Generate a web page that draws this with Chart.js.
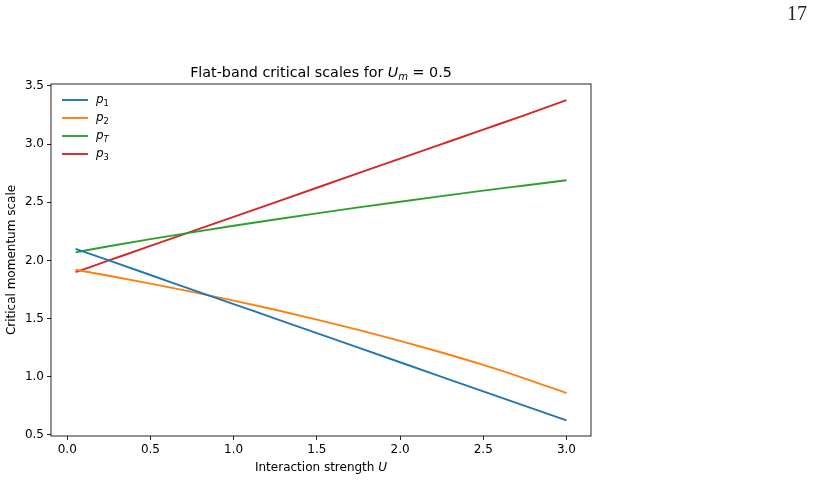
<!DOCTYPE html>
<html>
<head>
<meta charset="utf-8">
<script src="https://cdn.jsdelivr.net/npm/chart.js@4.4.0/dist/chart.umd.min.js"></script>
<style>
  html, body { margin: 0; padding: 0; background: #fff; }
  #wrap { position: relative; width: 814px; height: 481px; }
</style>
</head>
<body>
<div id="wrap"><canvas id="chart" width="814" height="481"></canvas></div>
<script>
// interaction strength U
const interaction = [0.05, 0.25, 0.5, 0.75, 1.0, 1.25, 1.5, 1.75, 2.0, 2.25, 2.5, 2.75, 3.0];
const p1 = [2.10, 2.00, 1.875, 1.75, 1.625, 1.50, 1.375, 1.25, 1.125, 1.00, 0.875, 0.75, 0.625];
const p2 = [1.92, 1.869, 1.801, 1.730, 1.655, 1.576, 1.492, 1.403, 1.309, 1.209, 1.102, 0.985, 0.86];
const pT = [2.07, 2.122, 2.183, 2.242, 2.298, 2.352, 2.405, 2.456, 2.505, 2.553, 2.600, 2.645, 2.69];
const p3 = [1.90, 2.00, 2.125, 2.25, 2.375, 2.50, 2.625, 2.75, 2.875, 3.00, 3.125, 3.25, 3.378];

const xTicks = [0.0, 0.5, 1.0, 1.5, 2.0, 2.5, 3.0];
const yTicks = [0.5, 1.0, 1.5, 2.0, 2.5, 3.0, 3.5];

const FONT = '"DejaVu Sans", sans-serif';
const FS = 12;

function pts(ys) {
    return interaction.map((u, i) => ({ x: u, y: ys[i] }));
}

// draw text made of runs: {t, italic, sub}
function drawRuns(ctx, runs, x, y, size, align) {
    const fontOf = r => (r.italic ? 'italic ' : '') + (r.sub ? size * 0.7 : size) + 'px ' + FONT;
    let total = 0;
    runs.forEach(r => { ctx.font = fontOf(r); total += ctx.measureText(r.t).width; });
    let cx = align === 'center' ? x - total / 2 : x;
    ctx.textAlign = 'left';
    ctx.textBaseline = 'alphabetic';
    runs.forEach(r => {
        ctx.font = fontOf(r);
        ctx.fillText(r.t, cx, r.sub ? y + size * 0.22 : y);
        cx += ctx.measureText(r.t).width;
    });
}

const decor = {
    id: 'decor',
    afterDraw(chart) {
        const { ctx, chartArea: a } = chart;
        ctx.save();
        ctx.strokeStyle = '#000';
        ctx.lineWidth = 0.85;
        ctx.strokeRect(a.left, a.top, a.right - a.left, a.bottom - a.top);

        ctx.fillStyle = '#000';
        const mid = (a.left + a.right) / 2;
        drawRuns(ctx, [
            { t: 'Flat-band critical scales for ' },
            { t: 'U', italic: true },
            { t: 'm', italic: true, sub: true },
            { t: ' = 0.5' }
        ], mid, 77, 14.3, 'center');

        drawRuns(ctx, [
            { t: 'Interaction strength ' },
            { t: 'U', italic: true }
        ], mid, 471, FS, 'center');

        // legend
        chart.data.datasets.forEach((ds, i) => {
            const y = 100 + i * 18;
            ctx.strokeStyle = ds.borderColor;
            ctx.lineWidth = 1.9;
            ctx.beginPath();
            ctx.moveTo(62, y);
            ctx.lineTo(88, y);
            ctx.stroke();
            const [base, sub] = ds.label.split('_');
            ctx.fillStyle = '#000';
            drawRuns(ctx, [
                { t: base, italic: true },
                { t: sub, italic: sub === 'T', sub: true }
            ], 96, y + 3, FS, 'left');
        });

        // page number
        ctx.font = '20px "Liberation Serif", "DejaVu Serif", serif';
        ctx.fillStyle = '#222';
        ctx.textAlign = 'left';
        ctx.fillText('17', 787, 20);
        ctx.restore();
    }
};

new Chart(document.getElementById('chart'), {
    type: 'line',
    data: {
        datasets: [
            { label: 'p_1', data: pts(p1), borderColor: '#1f77b4' },
            { label: 'p_2', data: pts(p2), borderColor: '#ff7f0e' },
            { label: 'p_T', data: pts(pT), borderColor: '#2ca02c' },
            { label: 'p_3', data: pts(p3), borderColor: '#d62728' }
        ]
    },
    options: {
        responsive: false,
        devicePixelRatio: 1,
        animation: false,
        layout: { padding: { left: 0, top: 84, right: 223, bottom: 0 } },
        datasets: {
            line: {
                borderWidth: 1.9,
                pointRadius: 0,
                fill: false,
                cubicInterpolationMode: 'monotone'
            }
        },
        plugins: {
            legend: { display: false },
            tooltip: { enabled: false }
        },
        scales: {
            x: {
                type: 'linear',
                min: -0.0975,
                max: 3.1475,
                afterBuildTicks: s => { s.ticks = xTicks.map(v => ({ value: v })); },
                afterFit: s => { s.height = 45; },
                ticks: {
                    callback: v => v.toFixed(1),
                    font: { family: FONT, size: FS },
                    color: '#000',
                    padding: 3,
                    maxRotation: 0,
                    autoSkip: false
                },
                grid: { drawOnChartArea: false, tickLength: 4, color: '#000', lineWidth: 0.85 },
                border: { display: false }
            },
            y: {
                min: 0.491,
                max: 3.517,
                afterBuildTicks: s => { s.ticks = yTicks.map(v => ({ value: v })); },
                afterFit: s => { s.width = 51; },
                ticks: {
                    callback: v => v.toFixed(1),
                    font: { family: FONT, size: FS },
                    color: '#000',
                    padding: 3,
                    autoSkip: false
                },
                grid: { drawOnChartArea: false, tickLength: 4, color: '#000', lineWidth: 0.85 },
                border: { display: false },
                title: {
                    display: true,
                    text: 'Critical momentum scale',
                    font: { family: FONT, size: FS },
                    color: '#000',
                    padding: { top: 4.8, bottom: 0 }
                }
            }
        }
    },
    plugins: [decor]
});
</script>
</body>
</html>
